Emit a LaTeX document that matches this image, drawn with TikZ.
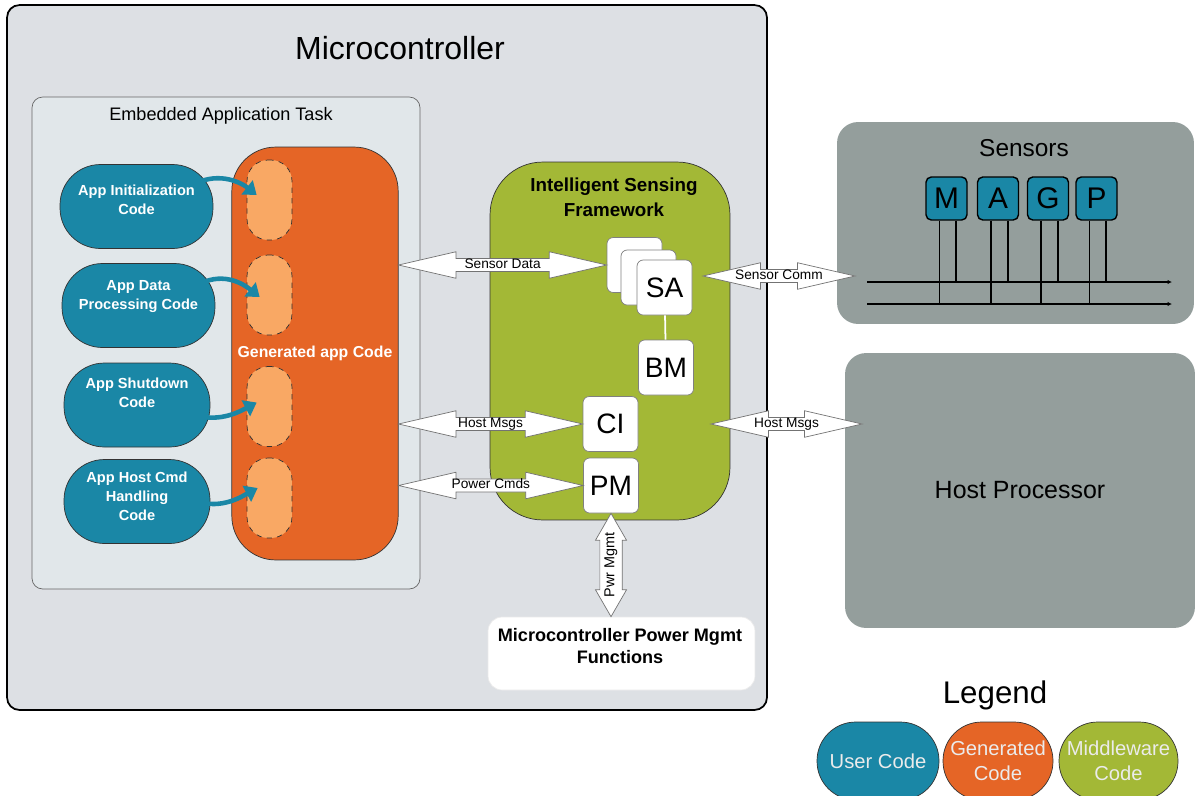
\documentclass[tikz,border=0pt]{standalone}
\usepackage{fontspec}
\setmainfont{Liberation Sans}
\usetikzlibrary{shapes.arrows,arrows.meta,calc}
\definecolor{userblue}{RGB}{26,135,166}
\definecolor{genorange}{RGB}{229,101,38}
\definecolor{genlight}{RGB}{249,168,100}
\definecolor{midgreen}{RGB}{163,184,54}
\definecolor{hwgray}{RGB}{148,158,156}
\definecolor{mcufill}{RGB}{221,224,228}
\definecolor{taskfill}{RGB}{225,231,234}
\tikzset{
  usercode/.style={draw=black!80, fill=userblue, text=white, rounded corners=23pt,
    minimum height=1.68cm, align=center, font=\bfseries\fontsize{8.3}{10.8}\selectfont},
  hook/.style={draw=black!80, dashed, fill=genlight, rounded corners=12pt,
    minimum width=0.9cm, minimum height=1.6cm},
  module/.style={draw=black!50, fill=white, rounded corners=3.5pt, minimum size=1.1cm,
    font=\fontsize{16}{18}\selectfont},
  device/.style={draw=black, line width=0.8pt, fill=userblue, rounded corners=3pt,
    minimum width=0.82cm, minimum height=0.86cm, font=\fontsize{17}{19}\selectfont},
  leg/.style={line width=1.1pt},
  flow/.style={draw=userblue, line width=2.6pt, -{Triangle[length=7pt,width=10pt]}},
  blockarr/.style={double arrow, draw=black!55, fill=white, double arrow tip angle=26,
    double arrow head extend=3.8pt, inner xsep=-10pt, inner ysep=0.4pt, text height=5pt,
    text depth=1.3pt, font=\fontsize{7.8}{9}\selectfont},
  legendcap/.style={draw=black!80, rounded corners=22pt, minimum height=1.56cm, align=center,
    text=white!92!black, font=\fontsize{11.5}{14}\selectfont}
}
\newcommand{\blockarrow}[4][]{%
  \path let \p1=(#2), \p2=(#3), \n1={veclen(\x2-\x1,\y2-\y1)} in
    (\p1) -- node[blockarr, sloped, minimum height=\n1, #1] {#4} (\p2);}

\begin{document}
\begin{tikzpicture}[x=0.02cm, y=-0.02cm]
\useasboundingbox (0,0) rectangle (1196,795);
\node[draw=black, line width=1pt, fill=mcufill, rounded corners=7pt,
  minimum width=15.2cm, minimum height=14.1cm] (MCU) at (387,357.5) {};
\node[font=\fontsize{18.2}{22}\selectfont] (MCUT) at (400,48) {Microcontroller};
\node[draw=black!60, fill=taskfill, rounded corners=6pt,
  minimum width=7.76cm, minimum height=9.84cm] (TASK) at (226,343) {};
\node[font=\fontsize{10.3}{12}\selectfont] (TASKT) at (221,116) {Embedded Application Task};
\node[draw=black!80, fill=genorange, rounded corners=25pt, minimum width=3.32cm,
  minimum height=8.26cm, text=white, font=\bfseries\fontsize{9}{11}\selectfont]
  (GEN) at (315,353.5) {Generated app Code};
\foreach \i/\y in {1/200, 2/295, 3/406.5, 4/498}
  \node[hook] (H\i) at (269.5,\y) {};
\node[usercode, minimum width=3.06cm, text depth=8pt] (U1) at (136.5,206.5) {App Initialization\\Code};
\node[usercode, minimum width=3.06cm, text depth=12.5pt] (U2) at (138.5,305.5) {App Data\\Processing Code};
\node[usercode, minimum width=2.92cm, text depth=14.5pt] (U3) at (137,405) {App Shutdown\\Code};
\node[usercode, minimum width=2.92cm, text depth=6pt] (U4) at (137,501.5) {App Host Cmd\\Handling\\Code};
\draw[flow] ($(U1.east)+(-18,-23)$) .. controls +(25,-12) and +(-15,-12) .. ($(H1.west)+(10,-5)$);
\draw[flow] ($(U2.east)+(-15,-22)$) .. controls +(25,-12) and +(-15,-12) .. ($(H2.west)+(13,2)$);
\draw[flow] ($(U3.east)+(-15,10)$) .. controls +(25,8) and +(-15,8) .. ($(H3.west)+(10,-4)$);
\draw[flow] ($(U4.east)+(-13,0)$) .. controls +(25,8) and +(-15,8) .. ($(H4.west)+(11,-10)$);

\node[draw=black!80, fill=midgreen, rounded corners=30pt, minimum width=4.8cm,
  minimum height=7.16cm] (ISF) at (610,341) {};
\node[align=center, font=\bfseries\fontsize{10.7}{14}\selectfont] (ISFT) at (614,197)
  {Intelligent Sensing\\Framework};
\node[module] (SA3) at (634.5,265) {};
\node[module] (SA2) at (648.5,277.5) {};
\node[module] (SA) at (664.5,287.5) {SA};
\node[module] (BM) at (666,367.5) {BM};
\node[module] (CI) at (610.5,424) {CI};
\node[module] (PM) at (611,485.5) {PM};
\draw[white, line width=1pt] (SA) -- (BM);
\node[draw=black!8, fill=white, rounded corners=8pt, minimum width=5.34cm,
  minimum height=1.46cm] (PMF) at (621.5,653.5) {};
\node[align=center, font=\bfseries\fontsize{10.3}{12.5}\selectfont] (PMFT) at (620,646)
  {Microcontroller Power Mgmt\\Functions};

\node[fill=hwgray, rounded corners=12pt, minimum width=7.14cm, minimum height=4.04cm]
  (SEN) at (1015.5,223) {};
\node[font=\fontsize{13.9}{16}\selectfont] (SENT) at (1024,148) {Sensors};
\foreach \s/\x in {M/946.5, A/998, G/1048, P/1096.5}{
  \node[device] (D\s) at (\x,198.5) {\s};
  \draw[leg] ([xshift=-4pt]D\s.south) -- ++(0,84);
  \draw[leg] ([xshift=5.5pt]D\s.south) -- ++(0,62);
}
\coordinate (BUS1) at (867,282);
\coordinate (BUS2) at (867,304);
\draw[leg, -{Latex[length=2.5pt,width=2.5pt]}] (BUS1) -- ++(305,0);
\draw[leg, -{Latex[length=2.5pt,width=2.5pt]}] (BUS2) -- ++(305,0);
\node[fill=hwgray, rounded corners=12pt, minimum width=7cm, minimum height=5.5cm,
  font=\fontsize{14.2}{16}\selectfont] (HOST) at (1020,490.5) {Host Processor};

\coordinate (SC1) at (703,276);
\coordinate (SC2) at (855,276);
\coordinate (HM1) at (711,424);
\coordinate (HM2) at (862,424);
\blockarrow{GEN.east |- SA3.west}{SA3.west}{Sensor Data}
\blockarrow{GEN.east |- CI.west}{CI.west}{Host Msgs}
\blockarrow{GEN.east |- PM.west}{PM.west}{Power Cmds}
\blockarrow{SC1}{SC2}{Sensor Comm}
\blockarrow{HM1}{HM2}{Host Msgs}
\blockarrow[double arrow tip angle=60, double arrow head extend=2.5pt, inner ysep=3pt,
  inner xsep=-16pt, font=\fontsize{8.2}{9}\selectfont]{PM.south |- PMF.north}{PM.south}{Pwr Mgmt}

\node[font=\fontsize{17.8}{20}\selectfont] (LEG) at (995,695) {Legend};
\node[legendcap, fill=userblue, minimum width=2.44cm] (LU) at (878,761) {User Code};
\node[legendcap, fill=genorange, minimum width=2.2cm] (LG) at (998,761) {Generated\\Code};
\node[legendcap, fill=midgreen, minimum width=2.38cm] (LM) at (1118.5,761) {Middleware\\Code};
\end{tikzpicture}
\end{document}
